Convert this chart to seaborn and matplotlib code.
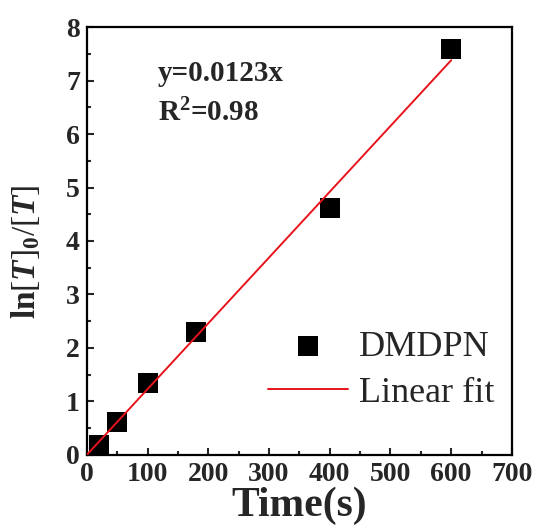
import numpy as np
import pandas as pd
import seaborn as sns
import matplotlib
matplotlib.use('Agg')
import matplotlib.pyplot as plt
from matplotlib.ticker import MultipleLocator

# data
time_s = [20, 50, 100, 180, 400, 600]
ln_ratio = [0.18, 0.61, 1.34, 2.30, 4.62, 7.60]
fit_x = [0, 600]
fit_y = [0, 7.38]

sns.set_style('ticks')
plt.rcParams['font.family'] = ['Liberation Serif', 'DejaVu Serif']
plt.rcParams['mathtext.fontset'] = 'custom'
plt.rcParams['mathtext.rm'] = 'Liberation Serif'
plt.rcParams['mathtext.it'] = 'Liberation Serif:italic'
plt.rcParams['mathtext.bf'] = 'Liberation Serif:bold'
plt.rcParams['mathtext.bfit'] = 'Liberation Serif:italic:bold'

df = pd.DataFrame({'Time': time_s, 'ln': ln_ratio})
fit = pd.DataFrame({'Time': fit_x, 'ln': fit_y})

fig, ax = plt.subplots(figsize=(5.36, 5.32), dpi=100)
fig.subplots_adjust(left=0.162, right=0.955, bottom=0.145, top=0.949)

sns.scatterplot(data=df, x='Time', y='ln', marker='s', s=190, color='black',
                edgecolor='black', linewidth=0, ax=ax, label='DMDPN', zorder=3)
sns.lineplot(data=fit, x='Time', y='ln', color='#e8141b', linewidth=1.4,
             ax=ax, label='Linear fit', zorder=4)

ax.set_xlim(0, 700)
ax.set_ylim(0, 8)
ax.xaxis.set_major_locator(MultipleLocator(100))
ax.xaxis.set_minor_locator(MultipleLocator(50))
ax.yaxis.set_major_locator(MultipleLocator(1))
ax.yaxis.set_minor_locator(MultipleLocator(0.5))
ax.tick_params(which='both', direction='in', width=1.5, top=False, right=False)
ax.tick_params(which='major', length=5, labelsize=20, pad=5)
ax.tick_params(which='minor', length=3)
for lab in ax.get_xticklabels() + ax.get_yticklabels():
    lab.set_fontweight('bold')
for sp in ax.spines.values():
    sp.set_linewidth(1.6)
    sp.set_color('black')

ax.set_xlabel('Time(s)', fontsize=30, fontweight='bold', labelpad=0)
ax.set_ylabel(r'$\mathbf{ln}\mathrm{[}\mathbfit{T}\mathrm{]}_{\mathbf{0}}/\mathrm{[}\mathbfit{T}\mathrm{]}$',
              fontsize=24)
ax.yaxis.set_label_coords(-0.105, 0.475)

ax.text(117, 7.14, 'y=0.0123x', fontsize=21, fontweight='bold', va='center')
ax.text(117, 6.39, r'R$^\mathbf{2}$=0.98', fontsize=21, fontweight='bold', va='center')

leg = ax.legend(loc='lower right', bbox_to_anchor=(1.035, 0.03), frameon=False,
                fontsize=26, handlelength=2.2, handletextpad=0.3, labelspacing=0.35,
                markerscale=1.0)

fig.savefig('out.png', dpi=100, facecolor='white')
